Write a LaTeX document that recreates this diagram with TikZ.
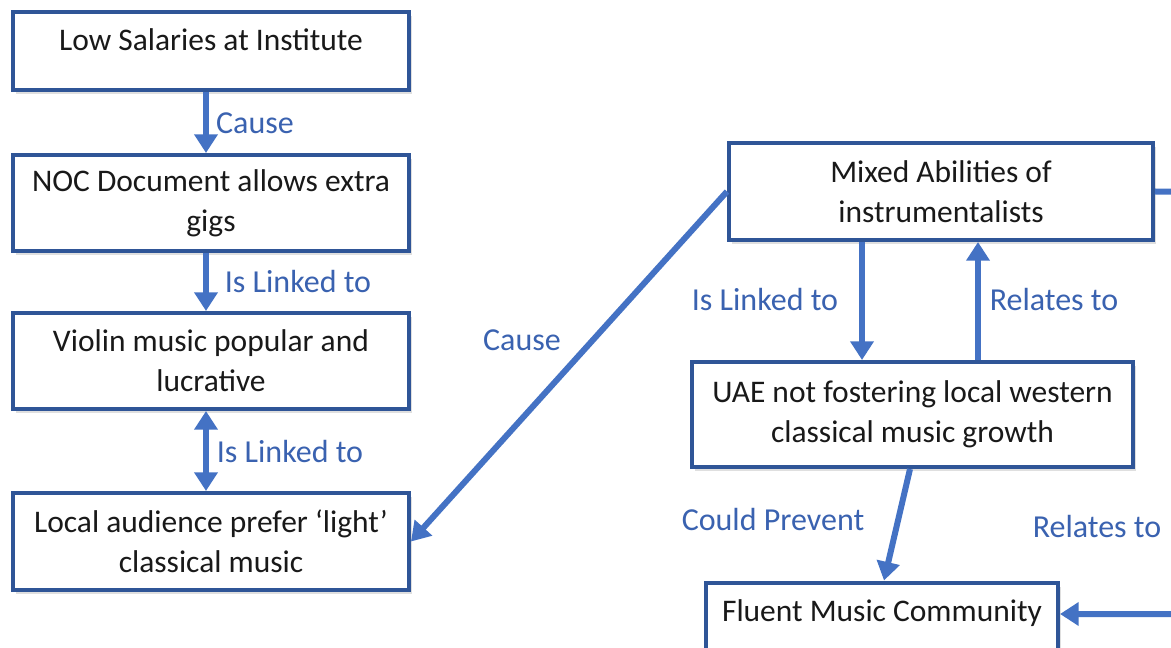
\documentclass[tikz,border=0pt]{standalone}
\usepackage{fontspec}
\setmainfont{Carlito}
\usetikzlibrary{arrows.meta,shadows,calc}
\definecolor{boxblue}{HTML}{2F5597}
\definecolor{arrblue}{HTML}{4472C4}
\definecolor{lblblue}{HTML}{3A62B0}
\begin{document}
\begin{tikzpicture}[x=0.75pt,y=-0.75pt,
  box/.style={draw=boxblue,line width=3pt,fill=white,align=center,
    font=\fontsize{23.6pt}{30pt}\selectfont,text=black!90,inner sep=0pt,
    drop shadow={opacity=0.25,shadow xshift=2.5pt,shadow yshift=-3pt}},
  conn/.style={draw=arrblue,line width=4.5pt,-{Triangle[width=17pt,length=14pt]}},
  dconn/.style={draw=arrblue,line width=4.5pt,{Triangle[width=17pt,length=14pt]}-{Triangle[width=17pt,length=14pt]}},
  lbl/.style={text=lblblue,font=\fontsize{24pt}{28pt}\selectfont,inner sep=0pt}]
\clip (0,0) rectangle (1171,648);
\fill[white] (0,0) rectangle (1171,648);
% left column
\node[box,minimum width=297pt,minimum height=58.5pt] (b1) at (211,51) {Low Salaries at Institute\\[-13.5pt]\mbox{}};
\node[box,minimum width=297pt,minimum height=72pt] (b2) at (211,203) {NOC Document allows extra\\gigs};
\node[box,minimum width=297pt,minimum height=72pt] (b3) at (211,361) {Violin music popular and\\lucrative};
\node[box,minimum width=297pt,minimum height=72.75pt] (b4) at (211,541.5) {Local audience prefer ‘light’\\classical music};
% right column
\node[box,minimum width=318pt,minimum height=72.75pt] (r1) at (941,191.5) {Mixed Abilities of\\instrumentalists};
\node[box,minimum width=330.75pt,minimum height=78.75pt] (r2) at (912.5,414.5) {UAE not fostering local western\\classical music growth};
\node[box,minimum width=264pt,minimum height=72.75pt] (r3) at (882,631) {Fluent Music Community\\\mbox{}};
% helper coordinates
\coordinate (xl) at (206,0);
\coordinate (xa) at (862,0);
\coordinate (xb) at (978,0);
\coordinate (p1) at (910,0);
\coordinate (p2) at (884,0);
\coordinate (yr) at (0,614);
\coordinate (off1) at (1200,192);
\coordinate (off2) at (1200,614);
% connectors
\draw[conn] (b1.south -| xl) -- (b2.north -| xl);
\draw[conn] (b2.south -| xl) -- (b3.north -| xl);
\draw[dconn] (b3.south -| xl) -- (b4.north -| xl);
\draw[conn] (r1.west) -- (b4.east);
\draw[conn] (r1.south -| xa) -- (r2.north -| xa);
\draw[conn] (r2.north -| xb) -- (r1.south -| xb);
\draw[conn] (r2.south -| p1) -- (r3.north -| p2);
\draw[conn] (r1.east) -- (off1) -- (off2) -- (r3.east |- yr);
% labels
\node[lbl] (l1) at (255,123) {Cause};
\node[lbl] (l2) at (298,282) {Is Linked to};
\node[lbl] (l3) at (290,452) {Is Linked to};
\node[lbl] (l4) at (522,340) {Cause};
\node[lbl] (l5) at (765,300) {Is Linked to};
\node[lbl] (l6) at (1054,300) {Relates to};
\node[lbl] (l7) at (773,520) {Could Prevent};
\node[lbl] (l8) at (1097,527) {Relates to};
\end{tikzpicture}
\end{document}
